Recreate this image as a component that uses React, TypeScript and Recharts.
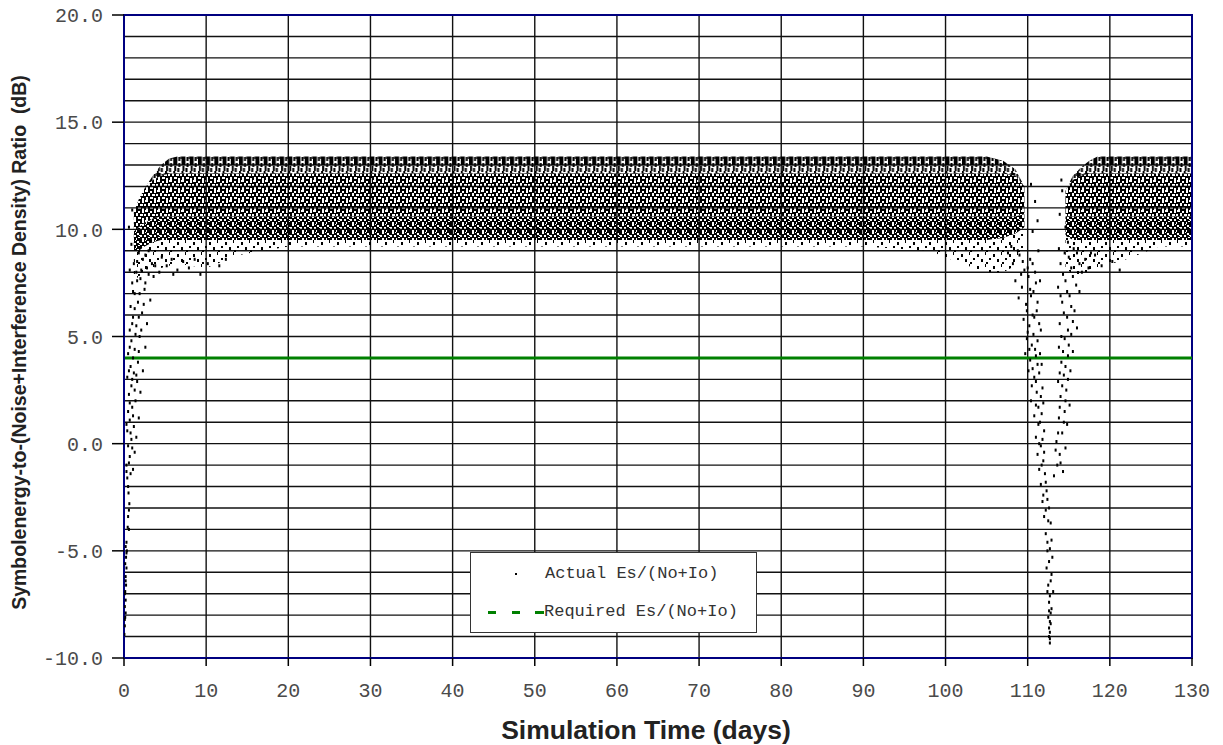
import React from 'react';
import {
  ComposedChart,
  Area,
  Scatter,
  XAxis,
  YAxis,
  CartesianGrid,
  ReferenceLine,
  ReferenceArea,
} from 'recharts';

// ---------- data ----------
const X_TICKS = [0, 10, 20, 30, 40, 50, 60, 70, 80, 90, 100, 110, 120, 130];
const Y_TICKS = [-10, -9, -8, -7, -6, -5, -4, -3, -2, -1, 0, 1, 2, 3, 4, 5, 6, 7, 8, 9, 10, 11, 12, 13, 14, 15, 16, 17, 18, 19, 20];
const Y_LABELED = [-10, -5, 0, 5, 10, 15, 20];
const REQUIRED_DB = 4.0;

// envelope of the dense scatter cloud (Actual Es/(No+Io)), per day
const bandDays = [1.2, 1.8, 2.5, 3.5, 4.5, 5.5, 6.5, 10, 14, 20, 30, 40, 50, 60, 70, 80, 90, 98, 102, 105, 107, 108.5, 109.6, 112, 114.6, 115.5, 116.5, 117.5, 118.5, 122, 126, 130];
const bandTop = [10.8, 11.4, 11.9, 12.5, 13.0, 13.3, 13.4, 13.4, 13.4, 13.4, 13.4, 13.4, 13.4, 13.4, 13.4, 13.4, 13.4, 13.4, 13.4, 13.4, 13.2, 12.8, 12.0, null, 11.8, 12.5, 12.9, 13.2, 13.4, 13.4, 13.4, 13.4];
const streakBase = [10.8, 11.4, 11.9, 12.3, 12.5, 12.6, 12.6, 12.6, 12.6, 12.6, 12.6, 12.6, 12.6, 12.6, 12.6, 12.6, 12.6, 12.6, 12.6, 12.6, 12.6, 12.5, 12.0, null, 11.8, 12.3, 12.5, 12.6, 12.6, 12.6, 12.6, 12.6];
const midBase = [9.9, 10.1, 10.3, 10.5, 10.6, 10.6, 10.6, 10.6, 10.6, 10.6, 10.6, 10.6, 10.6, 10.6, 10.6, 10.6, 10.6, 10.6, 10.6, 10.6, 10.6, 10.6, 10.7, null, 10.6, 10.6, 10.6, 10.6, 10.6, 10.6, 10.6, 10.6];
const coreBase = [9.0, 9.0, 9.2, 9.4, 9.5, 9.5, 9.5, 9.5, 9.5, 9.5, 9.5, 9.5, 9.5, 9.5, 9.5, 9.5, 9.5, 9.5, 9.5, 9.5, 9.6, 9.8, 10.1, null, 9.7, 9.5, 9.5, 9.5, 9.5, 9.5, 9.5, 9.5];
const fringeBase = [7.6, 7.8, 8.0, 8.1, 8.2, 8.3, 8.4, 8.2, 8.8, 9.2, 9.2, 9.2, 9.2, 9.2, 9.2, 9.2, 9.2, 9.0, 8.4, 8.0, 8.0, 8.3, 9.0, null, 8.2, 7.9, 7.9, 8.0, 8.2, 8.6, 9.2, 9.2];

// sparse individual samples (start-up ramp and the fade near day 112)
const rampPoints: [number, number][] = [
  [0.05, -8.9], [0.1, -8.5], [0.15, -8.1], [0.1, -7.6], [0.2, -7.3], [0.15, -6.9], [0.25, -6.6], [0.2, -6.2], [0.3, -5.8],
  [0.25, -5.3], [0.35, -5.0], [0.3, -4.6], [0.6, -4.0], [0.5, -3.4], [0.65, -2.8], [0.55, -2.3], [0.4, -1.6], [0.8, -1.4],
  [1.1, -1.2], [0.3, -1.0], [0.7, -0.6], [1.3, -0.4], [0.5, -0.1], [0.9, 0.2], [1.5, 0.3], [0.4, 0.6], [1.2, 0.8], [0.7, 1.1],
  [1.8, 1.2], [0.5, 1.5], [1.0, 1.7], [1.4, 2.0], [0.6, 2.3], [2.0, 2.4], [0.9, 2.7], [1.6, 2.9], [0.4, 3.1], [1.2, 3.3],
  [2.3, 3.4], [0.8, 3.6], [1.7, 3.8], [0.5, 4.2], [1.3, 4.4], [2.6, 4.5], [0.9, 4.8], [1.9, 5.0], [0.7, 5.3], [1.5, 5.5],
  [2.8, 5.6], [1.1, 5.9], [2.2, 6.1], [0.8, 6.4], [1.7, 6.6], [3.2, 6.7], [1.3, 7.0], [2.5, 7.2], [1.0, 7.5], [2.0, 7.7],
  [3.6, 7.8], [1.5, 8.0], [2.8, 8.2], [4.3, 8.0], [1.2, 8.4], [2.3, 8.6], [3.4, 8.4], [5.2, 8.3], [6.5, 8.1], [7.9, 8.2],
  [9.3, 7.9], [1.8, 8.9], [3.0, 9.0], [4.6, 8.7], [8.6, 8.6], [0.9, 9.3], [0.6, 10.1], [1.0, 10.9], [0.7, 8.1],
  [0.1, -8.2], [0.2, -7.9], [0.1, -7.0], [0.2, -6.4], [0.15, -5.6], [0.3, -5.1], [0.2, -4.8], [0.45, -3.9], [0.6, -3.1],
  [0.5, -2.0], [0.3, -1.3], [0.6, -0.9], [1.0, -0.2], [0.8, 0.5], [0.3, 0.9], [1.1, 1.3], [0.7, 1.9], [1.3, 2.5], [1.0, 3.0],
  [0.6, 3.4], [1.5, 3.2], [1.1, 4.0], [1.8, 4.3], [0.7, 4.5], [1.4, 5.1], [2.1, 5.3], [1.0, 5.6], [1.8, 5.9], [1.3, 6.3],
  [2.4, 6.5], [1.9, 7.0], [1.1, 7.1], [2.6, 7.5], [1.6, 7.6], [3.0, 7.9], [2.1, 8.1], [3.8, 8.3], [1.6, 8.5], [2.6, 8.8],
  [5.8, 8.6], [7.2, 8.5], [10.2, 8.4], [11.6, 8.3], [12.4, 8.6], [6.0, 7.9],
];
const dipPoints: [number, number][] = [
  [107.6, 8.9], [108.2, 8.4], [109.0, 8.8], [109.6, 8.1], [110.3, 8.6], [110.9, 8.0], [111.3, 9.0], [108.5, 7.6], [109.3, 7.3],
  [110.1, 7.8], [110.7, 7.1], [111.5, 7.6], [108.9, 6.8], [109.8, 6.5], [110.4, 6.9], [111.1, 6.2], [109.5, 5.8], [110.2, 5.5],
  [110.8, 5.9], [111.6, 5.3], [109.9, 4.9], [110.5, 4.6], [111.2, 4.8],
  [109.7, 4.2], [110.3, 3.9], [111.0, 4.1], [111.7, 3.7], [110.1, 3.4], [110.8, 3.1], [111.4, 3.3], [110.5, 2.7], [111.1, 2.4],
  [111.8, 2.6], [110.4, 2.0], [111.3, 1.7], [111.9, 1.9], [110.8, 1.3], [111.5, 1.0], [112.0, 0.6], [111.0, 0.3], [111.6, -0.1],
  [111.2, -0.5], [111.9, -0.8], [111.4, -1.2], [112.1, -1.4],
  [111.6, -1.9], [112.3, -2.2], [111.8, -2.7], [112.6, -3.0], [112.0, -3.4], [112.8, -3.7], [112.2, -4.2], [112.9, -4.5],
  [112.4, -5.0], [113.0, -5.3], [112.3, -5.8], [112.9, -6.1], [112.5, -6.6], [113.1, -6.9], [112.6, -7.4], [112.9, -7.7],
  [112.5, -8.1], [112.8, -8.4], [112.7, -8.8], [112.7, -9.1], [112.7, -9.3], [112.6, -8.6], [112.8, -7.9],
  [113.2, -1.5], [113.6, -1.0], [114.3, -1.3], [113.9, -0.5], [114.6, -0.2], [113.5, 0.1], [114.2, 0.5], [114.8, 0.9],
  [113.8, 1.2], [114.5, 1.5], [115.1, 1.8], [114.0, 2.2], [114.7, 2.5], [113.7, 2.9], [114.4, 3.2], [115.2, 3.4], [114.1, 3.8],
  [114.9, 4.1], [115.5, 4.3], [113.8, 4.5],
  [114.5, 4.9], [115.3, 5.1], [116.0, 5.4], [113.9, 5.6], [114.8, 5.9], [115.7, 6.2], [114.2, 6.6], [115.1, 6.9], [116.3, 7.1],
  [113.7, 7.3], [114.6, 7.6], [115.5, 7.8], [116.6, 8.0], [117.4, 8.2], [114.0, 8.4], [115.0, 8.7], [116.0, 8.9], [117.0, 8.6],
  [118.2, 8.8], [119.0, 8.3], [120.3, 8.5], [121.2, 8.1], [113.8, 9.1], [114.9, 9.4],
  [110.4, 12.1], [110.9, 11.3], [111.2, 10.4], [110.6, 9.9], [114.2, 11.8], [113.9, 10.7], [114.6, 10.1], [114.1, 12.3],
  [108.0, 9.2], [108.8, 9.0], [109.4, 8.5], [110.0, 8.2], [110.6, 8.4], [111.0, 7.5], [109.2, 7.9], [110.3, 7.2], [111.2, 6.6],
  [109.9, 6.2], [110.6, 6.0], [111.4, 5.6], [110.0, 5.2], [110.7, 5.1], [110.2, 4.4], [110.9, 4.4], [111.5, 4.2], [110.6, 3.5],
  [111.2, 3.7], [111.0, 2.9], [111.6, 2.2], [111.0, 1.8], [111.7, 1.4], [111.3, 0.9], [111.8, 0.2], [111.4, 0.0], [112.0, -0.4],
  [111.7, -1.0], [112.2, -1.8], [111.9, -2.4], [112.4, -2.6], [112.2, -3.1], [112.5, -3.6], [112.4, -4.6], [112.7, -4.9],
  [112.6, -5.5], [112.8, -6.4], [112.4, -6.9], [112.7, -7.1], [112.6, -7.8], [112.7, -8.3], [112.6, -9.0], [113.4, -0.3],
  [114.0, -0.9], [113.7, 0.5], [114.4, 1.0], [113.9, 1.7], [114.6, 2.0], [114.2, 2.7], [114.9, 3.0], [113.9, 3.3], [114.6, 3.6],
  [114.3, 4.3], [115.0, 4.6], [114.1, 5.0], [114.9, 5.3], [115.5, 5.7], [114.4, 6.1], [115.3, 6.4], [114.0, 6.9], [114.8, 7.1],
  [115.9, 7.4], [114.3, 7.9], [115.3, 8.2], [116.3, 8.4], [114.5, 8.9], [115.6, 9.1], [117.7, 8.9],
];

// ---------- tables built for the library ----------
const bandRows = bandDays.map((day, i) => ({
  day,
  streak: bandTop[i] == null ? null : [streakBase[i], bandTop[i]],
  mid: bandTop[i] == null ? null : [midBase[i], streakBase[i]],
  core: bandTop[i] == null ? null : [coreBase[i], midBase[i]],
  fringe: bandTop[i] == null ? null : [fringeBase[i], coreBase[i]],
}));
const samplePoints = [...rampPoints, ...dipPoints].map(([day, db]) => ({ day, db }));

// ---------- styling ----------
const MONO = '"Liberation Mono", "Courier New", monospace';
const SANS = '"Liberation Sans", Arial, sans-serif';
const NAVY = '#000080';
const GREEN = '#008000';
const TICK_COLOR = '#4a4a4a';

// stipple textures (black with transparent speckles so the grid shows through)
const MID_TEXTURE =
  'M0 0H12V10H0Z M1 0h3v2h-3Z M6 1h2v2h-2Z M10 0h2v3h-2Z M0 4h2v2h-2Z M4 3h2v3h-2Z M8 4h3v2h-3Z M2 7h2v3h-2Z M6 7h3v2h-3Z M10 8h2v2h-2Z';
const CORE_TEXTURE =
  'M0 0H10V8H0Z M2 0h2v2h-2Z M5 0h1v1h-1Z M7 1h2v2h-2Z M0 3h2v2h-2Z M4 3h2v2h-2Z M9 3h1v1h-1Z M8 5h2v1h-2Z M2 6h2v2h-2Z M6 6h1v2h-1Z';

const YTick = (props: any) => {
  const { x, y, payload } = props;
  if (!Y_LABELED.includes(payload.value)) return <g />;
  return (
    <g>
      <line x1={x} x2={x + 12} y1={y} y2={y} stroke="#000" strokeWidth={1.5} />
      <text x={x - 9} y={y} dy="0.36em" textAnchor="end" fontFamily={MONO} fontSize={20} fill={TICK_COLOR}>
        {Number(payload.value).toFixed(1)}
      </text>
    </g>
  );
};

const XTick = (props: any) => {
  const { x, y, payload } = props;
  return (
    <g>
      <line x1={x} x2={x} y1={y - 8} y2={y} stroke="#000" strokeWidth={1.5} />
      <text x={x} y={y + 24} dy="0.36em" textAnchor="middle" fontFamily={MONO} fontSize={20} fill={TICK_COLOR}>
        {payload.value}
      </text>
    </g>
  );
};

const YTitle = (props: any) => {
  const vb = props.viewBox || { y: 15, height: 643 };
  const cx = 19;
  const cy = vb.y + vb.height / 2 + 6;
  return (
    <text
      x={cx}
      y={cy}
      transform={`rotate(-90 ${cx} ${cy})`}
      textAnchor="middle"
      dominantBaseline="central"
      fontFamily={SANS}
      fontWeight="bold"
      fontSize={19.5}
      fill="#222"
    >
      Symbolenergy-to-(Noise+Interference Density) Ratio&#160;&#160;(dB)
    </text>
  );
};

const XTitle = (props: any) => {
  const vb = props.viewBox || { x: 124, width: 1068, y: 658 };
  const cx = vb.x + vb.width / 2 - 12;
  return (
    <text x={cx} y={730} dominantBaseline="central" textAnchor="middle" fontFamily={SANS} fontWeight="bold" fontSize={26.5} fill="#222">
      Simulation Time (days)
    </text>
  );
};

const SampleDot = (props: any) => {
  const { cx, cy } = props;
  if (cx == null || cy == null) return <g />;
  return <rect x={cx - 1} y={cy - 1.5} width={2} height={3} fill="#000" />;
};

const Legend = () => (
  <div
    style={{
      position: 'absolute',
      left: 470,
      top: 552,
      width: 287,
      height: 81,
      boxSizing: 'border-box',
      border: '1.5px solid #333',
      background: '#fff',
      fontFamily: MONO,
      fontSize: 17,
      color: '#333',
    }}
  >
    <div style={{ position: 'absolute', left: 44, top: 20, width: 2, height: 2, background: '#000' }} />
    <div style={{ position: 'absolute', left: 74, top: 10, lineHeight: '22px', whiteSpace: 'pre' }}>Actual Es/(No+Io)</div>
    <div style={{ position: 'absolute', left: 17, top: 58, width: 8, height: 3, background: GREEN }} />
    <div style={{ position: 'absolute', left: 41, top: 58, width: 8, height: 3, background: GREEN }} />
    <div style={{ position: 'absolute', left: 64, top: 58, width: 9, height: 3, background: GREEN }} />
    <div style={{ position: 'absolute', left: 73, top: 48, lineHeight: '22px', whiteSpace: 'pre' }}>Required Es/(No+Io)</div>
  </div>
);

export default function App() {
  return (
    <div style={{ position: 'absolute', left: 0, top: 0, width: 1223, height: 745, background: '#fff' }}>
      <ComposedChart
        width={1223}
        height={745}
        data={bandRows}
        margin={{ top: 15, right: 31, bottom: 0, left: 0 }}
      >
        <defs>
          <pattern id="streakPat" patternUnits="userSpaceOnUse" x={124} y={156} width={8.215} height={17}>
            <rect x={0} y={0} width={4} height={9} fill="#000" />
            <rect x={5} y={1} width={2} height={4} fill="#000" />
            <rect x={1} y={10} width={2} height={5} fill="#000" />
            <rect x={5} y={7} width={2} height={4} fill="#000" />
            <rect x={4} y={12} width={2} height={4} fill="#000" />
            <rect x={0} y={15} width={2} height={2} fill="#000" />
            <rect x={7} y={0} width={1} height={3} fill="#000" />
          </pattern>
          <pattern id="midPat" patternUnits="userSpaceOnUse" x={0} y={0} width={12} height={10}>
            <path d={MID_TEXTURE} fill="#000" fillRule="evenodd" />
          </pattern>
          <pattern id="corePat" patternUnits="userSpaceOnUse" x={0} y={0} width={10} height={8}>
            <path d={CORE_TEXTURE} fill="#000" fillRule="evenodd" />
          </pattern>
          <pattern id="fringePat" patternUnits="userSpaceOnUse" x={0} y={0} width={16} height={12}>
            <rect x={1} y={2} width={2} height={3} fill="#000" />
            <rect x={9} y={0} width={1} height={3} fill="#000" />
            <rect x={13} y={6} width={2} height={2} fill="#000" />
            <rect x={5} y={7} width={2} height={3} fill="#000" />
            <rect x={10} y={10} width={2} height={2} fill="#000" />
          </pattern>
        </defs>
        <CartesianGrid stroke="#111" strokeWidth={1.4} />
        <XAxis
          dataKey="day"
          type="number"
          domain={[0, 130]}
          ticks={X_TICKS}
          interval={0}
          allowDataOverflow
          height={87}
          tickSize={8}
          tickMargin={0}
          tickLine={false}
          axisLine={{ stroke: NAVY, strokeWidth: 2 }}
          tick={<XTick />}
          label={<XTitle />}
        />
        <YAxis
          type="number"
          domain={[-10, 20]}
          ticks={Y_TICKS}
          interval={0}
          allowDataOverflow
          width={124}
          tickSize={12}
          tickMargin={0}
          tickLine={false}
          axisLine={{ stroke: NAVY, strokeWidth: 2 }}
          tick={<YTick />}
          label={<YTitle />}
        />
        <Area dataKey="fringe" type="linear" stroke="none" fill="url(#fringePat)" fillOpacity={1} isAnimationActive={false} />
        <Area dataKey="core" type="linear" stroke="none" fill="url(#corePat)" fillOpacity={1} isAnimationActive={false} />
        <Area dataKey="mid" type="linear" stroke="none" fill="url(#midPat)" fillOpacity={1} isAnimationActive={false} />
        <Area dataKey="streak" type="linear" stroke="none" fill="url(#streakPat)" fillOpacity={1} isAnimationActive={false} />
        <Scatter data={samplePoints} dataKey="db" shape={<SampleDot />} isAnimationActive={false} />
        <ReferenceLine y={REQUIRED_DB} stroke={GREEN} strokeWidth={3} ifOverflow="extendDomain" />
        <ReferenceArea x1={0} x2={130} y1={-10} y2={20} fill="none" stroke={NAVY} strokeWidth={2} ifOverflow="visible" />
      </ComposedChart>
      <Legend />
    </div>
  );
}
